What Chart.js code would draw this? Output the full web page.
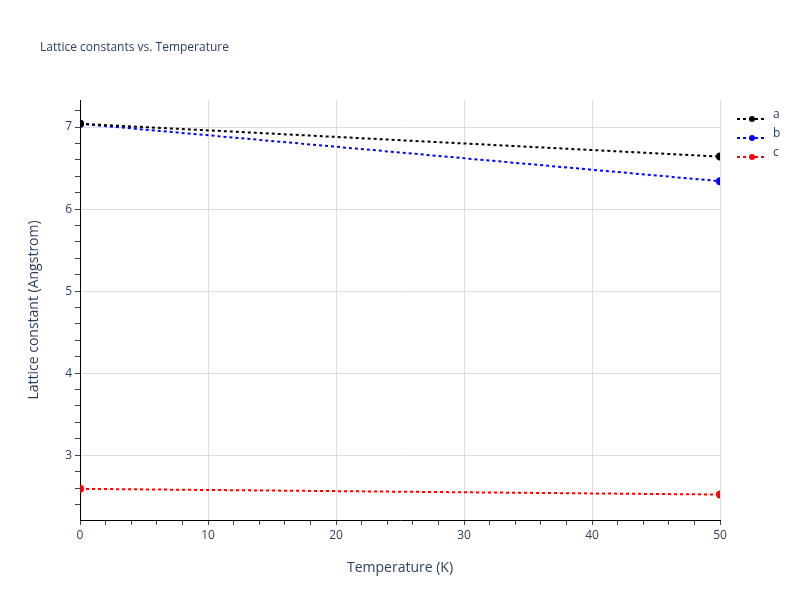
<!DOCTYPE html><html><head><script src="https://cdn.jsdelivr.net/npm/chart.js@4"></script>
<style>body{margin:0;font-family:"Open Sans",sans-serif;}#w{position:relative;width:800px;height:600px}
#t{position:absolute;left:40px;top:38px;font-size:12px;color:#2a3f5f}
#lg{position:absolute;left:737px;top:104px;font-size:12px;color:#2a3f5f}
#lg div{height:19px;display:flex;align-items:center}
#lg span.s{display:inline-block;width:30px;height:8px;position:relative;margin-right:6px}
</style></head><body><div id="w"><canvas id="c" width="800" height="600"></canvas><div id="t">Lattice constants vs. Temperature</div><div id="lg"></div></div>
<script>
const temps=[0,50];
const seriesNames=['a','b','c'];
const aVals=[7.04,6.64];
const bVals=[7.04,6.34];
const cVals=[2.59,2.52];
const colors=['#000000','#0000ff','#ff0000'];
const vals=[aVals,bVals,cVals];
const ds=seriesNames.map((n,i)=>({label:n,data:temps.map((t,j)=>({x:t,y:vals[i][j]})),borderColor:colors[i],backgroundColor:colors[i],borderDash:[3,3],borderWidth:2,pointRadius:3,pointHoverRadius:3}));
const lg=document.getElementById('lg');
seriesNames.forEach((n,i)=>{lg.innerHTML+=`<div><span class="s"><svg width="30" height="8"><line x1="0" y1="4" x2="30" y2="4" stroke="${colors[i]}" stroke-width="2" stroke-dasharray="3,3"/><circle cx="15" cy="4" r="3" fill="${colors[i]}"/></svg></span>${n}</div>`});
const isInt=v=>Math.abs(v-Math.round(v))<1e-6;
new Chart(document.getElementById('c'),{type:'scatter',data:{datasets:ds.map(d=>({...d,showLine:true}))},
options:{responsive:false,animation:false,layout:{padding:{left:22,right:80,top:100,bottom:20}},
plugins:{legend:{display:false},tooltip:{enabled:false}},
scales:{x:{type:'linear',min:0,max:50,afterFit:s=>{s.height=60},ticks:{stepSize:2,color:'#2a3f5f',font:{size:12,family:'Open Sans'},callback:v=>v%10===0?v:'',maxRotation:0,autoSkip:false},
grid:{color:c=>c.tick&&c.tick.value%10===0&&c.tick.value>0?'#dedede':'rgba(0,0,0,0)',tickColor:'#444',tickLength:5,lineWidth:1},border:{color:'#000',width:1},
title:{display:true,text:'Temperature (K)',color:'#2a3f5f',font:{size:14,family:'Open Sans'}}},
y:{min:2.21,max:7.33,afterBuildTicks:s=>{const t=[];for(let v=2.4;v<=7.21;v+=0.2)t.push({value:Math.round(v*10)/10});s.ticks=t},
afterFit:s=>{s.width=58},
ticks:{color:'#2a3f5f',font:{size:12,family:'Open Sans'},callback:v=>isInt(v)?v:'',autoSkip:false},
grid:{color:c=>c.tick&&isInt(c.tick.value)?'#dedede':'rgba(0,0,0,0)',tickColor:'#444',tickLength:5},border:{color:'#000',width:1},
title:{display:true,text:'Lattice constant (Angstrom)',color:'#2a3f5f',font:{size:14,family:'Open Sans'}}}}}});
</script></body></html>
